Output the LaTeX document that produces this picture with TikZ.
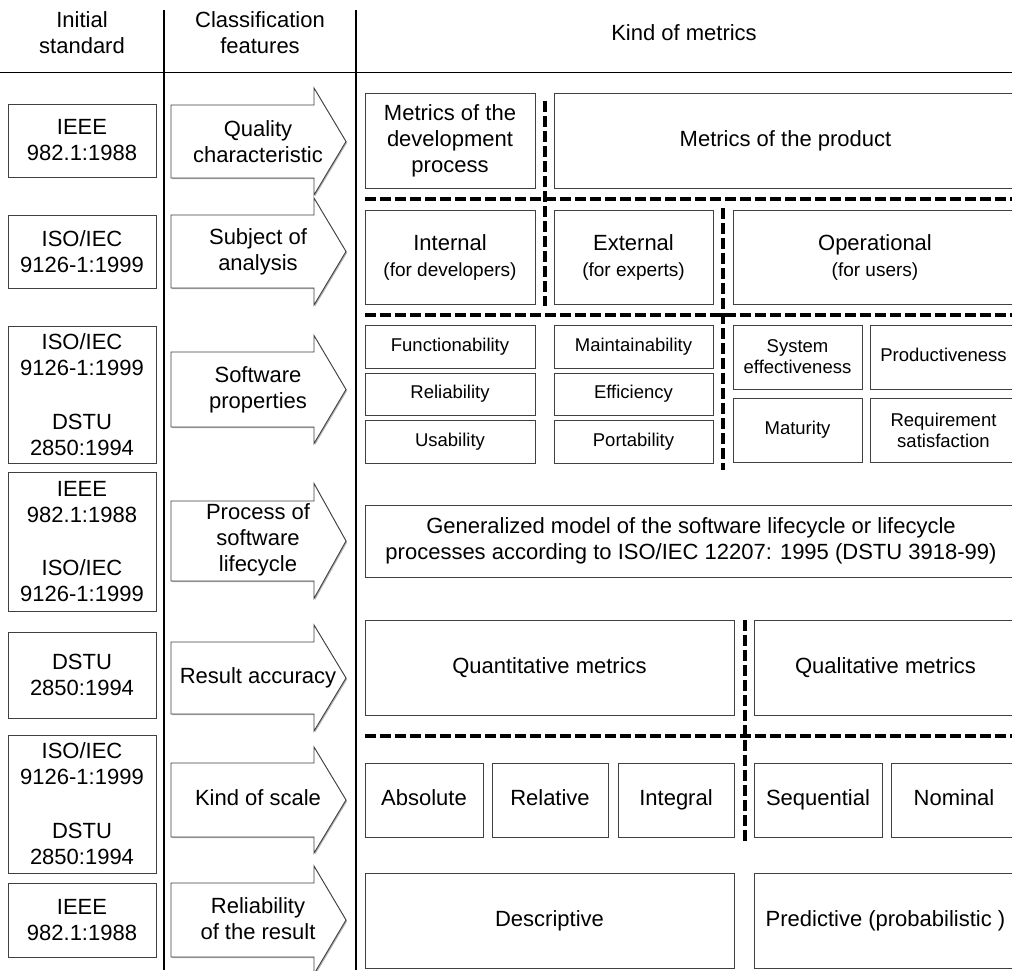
\documentclass[tikz,border=0pt]{standalone}
\usepackage{fontspec}
\setmainfont{Liberation Sans}
\usetikzlibrary{shadows}

% box with corners (x1,y1)-(x2,y2), y measured downwards
\newcommand{\rbox}[7][]{%
  \node[box,#1,minimum width={#5-#3},minimum height={#6-#4}] (#2)
    at ({(#3+#5)/2},{(#4+#6)/2}) {#7};}
% block arrow: centre line, half body height, half head height
\newcommand{\farrow}[3]{%
  \draw[farrow] (171,{#1-#2}) -- (314,{#1-#2}) -- (314,{#1-#3}) -- (346,#1)
    -- (314,{#1+#3}) -- (314,{#1+#2}) -- (171,{#1+#2}) -- cycle;}

\begin{document}
\begin{tikzpicture}[x=1pt,y=-1pt,
  big/.style={font=\fontsize{22}{26}\selectfont},
  small/.style={font=\fontsize{18.5}{21}\selectfont},
  one/.style={text height=15.5pt,text depth=4.5pt},
  onesmall/.style={small,text height=13pt,text depth=4pt},
  shade/.style={drop shadow={shadow xshift=1.2pt,shadow yshift=-1.2pt,fill=black!30,opacity=1}},
  box/.style={draw=black!75,line width=0.9pt,fill=white,inner sep=0pt,outer sep=0pt,
    align=center,big,shade},
  farrow/.style={draw=black!75,line width=0.9pt,fill=white,shade},
  label/.style={align=center,big,inner sep=0pt},
  rule/.style={line width=1.6pt,black},
  split/.style={line width=3.4pt,black,dash pattern=on 10.5pt off 4.5pt},
]
\path[use as bounding box] (0,0) rectangle (1012,970);
\clip (0,0) rectangle (1012,970);

% column rules and header
\draw[rule] (164,10) -- (164,970);
\draw[rule] (356,10) -- (356,970);
\draw[rule] (0,72.5) -- (1012,72.5);
\node[label] (h1) at (82,33) {Initial\\standard};
\node[label] (h2) at (260,33) {Classification\\features};
\node[label] (h3) at (684,33) {Kind of metrics};

% initial standards
\rbox{s1}{8}{104}{156}{177}{IEEE\\982.1:1988}
\rbox{s2}{8}{215}{156}{288}{ISO/IEC\\9126-1:1999}
\rbox{s3}{8}{326}{156}{463}{ISO/IEC\\9126-1:1999\\[28pt]DSTU\\2850:1994}
\rbox{s4}{8}{472}{156}{611}{IEEE\\982.1:1988\\[27pt]ISO/IEC\\9126-1:1999}
\rbox{s5}{8}{632}{156}{718}{DSTU\\2850:1994}
\rbox{s6}{8}{735}{156}{873}{ISO/IEC\\9126-1:1999\\[28pt]DSTU\\2850:1994}
\rbox{s7}{8}{883}{156}{957}{IEEE\\982.1:1988}

% classification features
\farrow{141.5}{36.5}{53.5}
\farrow{251.5}{36.5}{53.5}
\farrow{389.5}{37.5}{54}
\farrow{541}{40}{57.5}
\farrow{678}{36}{53}
\farrow{800}{37}{53}
\farrow{920}{37}{54}
\node[label] (f1) at (258,141.5) {Quality\\characteristic};
\node[label] (f2) at (258,251.5) {Subject of\\analysis};
\node[label] (f3) at (258,389.5) {Software\\properties};
\node[label] (f4) at (258,540) {Process of\\software\\lifecycle};
\node[label,one] (f5) at (258,678) {Result accuracy};
\node[label,one] (f6) at (258,800) {Kind of scale};
\node[label] (f7) at (258,919) {Reliability\\of the result};

% separators between groups of metrics
\draw[split] (365,199) -- (1012,199);
\draw[split] (545,101) -- (545,306);
\draw[split] (365,315) -- (1012,315);
\draw[split] (723,208) -- (723,470);
\draw[split] (745,620) -- (745,842);
\draw[split] (365,736) -- (1012,736);

% kinds of metrics
\rbox{m1}{365}{93}{535}{188}{Metrics of the\\development\\process}
\rbox[one]{m2}{554}{93}{1017}{188}{Metrics of the product}

\rbox{a1}{365}{210}{535}{304}{Internal\\{\fontsize{19}{21}\selectfont(for developers)}}
\rbox{a2}{554}{210}{713}{304}{External\\{\fontsize{19}{21}\selectfont(for experts)}}
\rbox{a3}{733}{210}{1017}{304}{Operational\\{\fontsize{19}{21}\selectfont(for users)}}

\rbox[onesmall]{p1}{365}{325}{535}{368}{Functionability}
\rbox[onesmall]{p2}{365}{373}{535}{415}{Reliability}
\rbox[onesmall]{p3}{365}{420}{535}{463}{Usability}
\rbox[onesmall]{p4}{554}{325}{713}{368}{Maintainability}
\rbox[onesmall]{p5}{554}{373}{713}{415}{Efficiency}
\rbox[onesmall]{p6}{554}{420}{713}{463}{Portability}
\rbox[small]{p7}{733}{325}{862}{389}{System\\effectiveness}
\rbox[onesmall]{p8}{870}{325}{1017}{389}{Productiveness}
\rbox[onesmall]{p9}{733}{398}{862}{462}{Maturity}
\rbox[small]{p10}{870}{398}{1017}{462}{Requirement\\satisfaction}

\rbox{l1}{365}{505}{1017}{577}{Generalized model of the software lifecycle or lifecycle\\processes according to ISO/IEC 12207: 1995 (DSTU 3918-99)}

\rbox[one]{q1}{365}{620}{734}{715}{Quantitative metrics}
\rbox[one]{q2}{754}{620}{1017}{715}{Qualitative metrics}

\rbox[one]{k1}{365}{763}{483}{837}{Absolute}
\rbox[one]{k2}{492}{763}{608}{837}{Relative}
\rbox[one]{k3}{618}{763}{734}{837}{Integral}
\rbox[one]{k4}{754}{763}{882}{837}{Sequential}
\rbox[one]{k5}{891}{763}{1017}{837}{Nominal}

\rbox[one]{r1}{365}{873}{734}{968}{Descriptive}
\rbox[one]{r2}{754}{873}{1017}{968}{Predictive (probabilistic )}
\end{tikzpicture}
\end{document}
